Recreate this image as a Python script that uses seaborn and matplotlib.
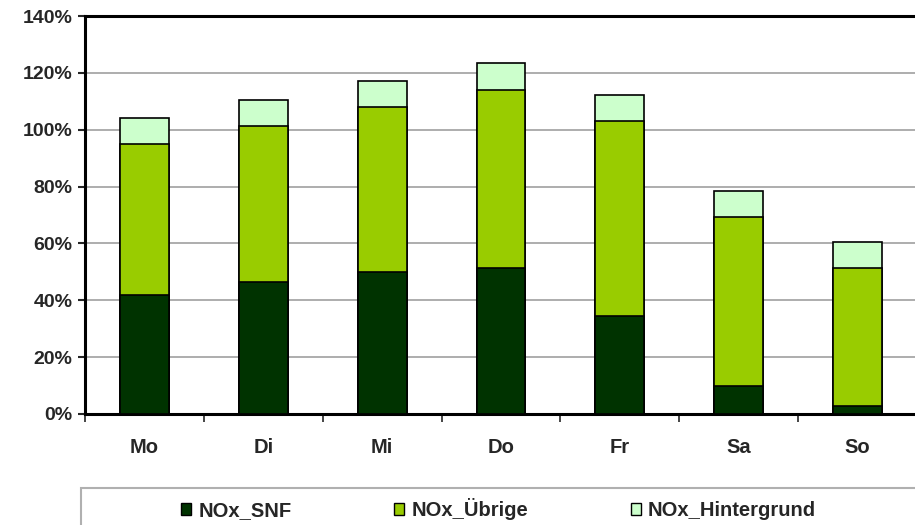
import matplotlib
matplotlib.use("Agg")
import matplotlib.pyplot as plt
from matplotlib.patches import Patch, Rectangle
from matplotlib.ticker import MultipleLocator, FixedLocator, PercentFormatter
import numpy as np
import pandas as pd
import seaborn as sns

# Daten (Anteile in %)
tage = ["Mo", "Di", "Mi", "Do", "Fr", "Sa", "So"]
nox_snf = [42.0, 46.3, 49.8, 51.4, 34.4, 9.8, 2.9]
nox_uebrige = [53.0, 54.9, 58.3, 62.5, 68.6, 59.4, 48.3]
nox_hintergrund = [9.1, 9.2, 9.1, 9.7, 9.1, 9.1, 9.4]

farben = {"NOx_SNF": "#003300", "NOx_Übrige": "#99cc00", "NOx_Hintergrund": "#ccffcc"}

sns.set_style("white")
plt.rcParams['font.family'] = ['Liberation Sans', 'DejaVu Sans']
plt.rcParams['font.weight'] = 'bold'

df = pd.DataFrame({"Tag": tage, "SNF": nox_snf, "Uebrige": nox_uebrige, "Hintergrund": nox_hintergrund})
df["s1"] = df["SNF"]
df["s2"] = df["SNF"] + df["Uebrige"]
df["s3"] = df["s2"] + df["Hintergrund"]

fig = plt.figure(figsize=(9.15, 5.25), dpi=100)
ax = fig.add_axes([85 / 915, 111 / 525, 832 / 915, 398 / 525])

# gestapelt: zuerst Summe, dann darueber die kleineren Summen
for col, name in [("s3", "NOx_Hintergrund"), ("s2", "NOx_Übrige"), ("s1", "NOx_SNF")]:
    sns.barplot(data=df, x="Tag", y=col, color=farben[name], width=0.41,
                edgecolor="black", linewidth=1.2, saturation=1, ax=ax, zorder=3)

ax.set_ylim(0, 140)
ax.set_xlim(-0.5, 6.5)
ax.yaxis.set_major_locator(MultipleLocator(20))
ax.yaxis.set_major_formatter(PercentFormatter(decimals=0))
ax.grid(axis="y", color="#a0a0a0", linewidth=1.2, zorder=0)
ax.set_axisbelow(True)
ax.set_xlabel("")
ax.set_ylabel("")

for s in ["left", "top", "bottom"]:
    ax.spines[s].set_linewidth(2.2)
    ax.spines[s].set_color("black")
ax.spines["right"].set_visible(False)

ax.tick_params(axis="y", length=5, width=1.5, labelsize=14, pad=4, left=True, direction="out")
ax.tick_params(axis="x", which="major", length=0, labelsize=14.5, pad=17)
ax.xaxis.set_minor_locator(FixedLocator(np.arange(-0.5, 7, 1)))
ax.tick_params(axis="x", which="minor", length=6, width=1.2, bottom=True, direction="out")
for lab in ax.get_xticklabels() + ax.get_yticklabels():
    lab.set_fontweight("bold")

# Legendenrahmen
fig.patches.append(Rectangle((81 / 915, -0.05), 0.95, (525 - 488) / 525 + 0.05,
                             transform=fig.transFigure, facecolor="white",
                             edgecolor="#b0b0b0", linewidth=1.5))
handles = [Patch(facecolor=farben[k], edgecolor="black", label=k) for k in farben]
fig.legend(handles=handles, loc="center left", bbox_to_anchor=(171 / 915, 1 - 509 / 525),
           ncol=3, frameon=False, borderpad=0, handlelength=0.5, handleheight=0.5,
           handletextpad=0.35, columnspacing=5.1, prop={"weight": "bold", "size": 14.5})

fig.savefig("out.png", dpi=100)
